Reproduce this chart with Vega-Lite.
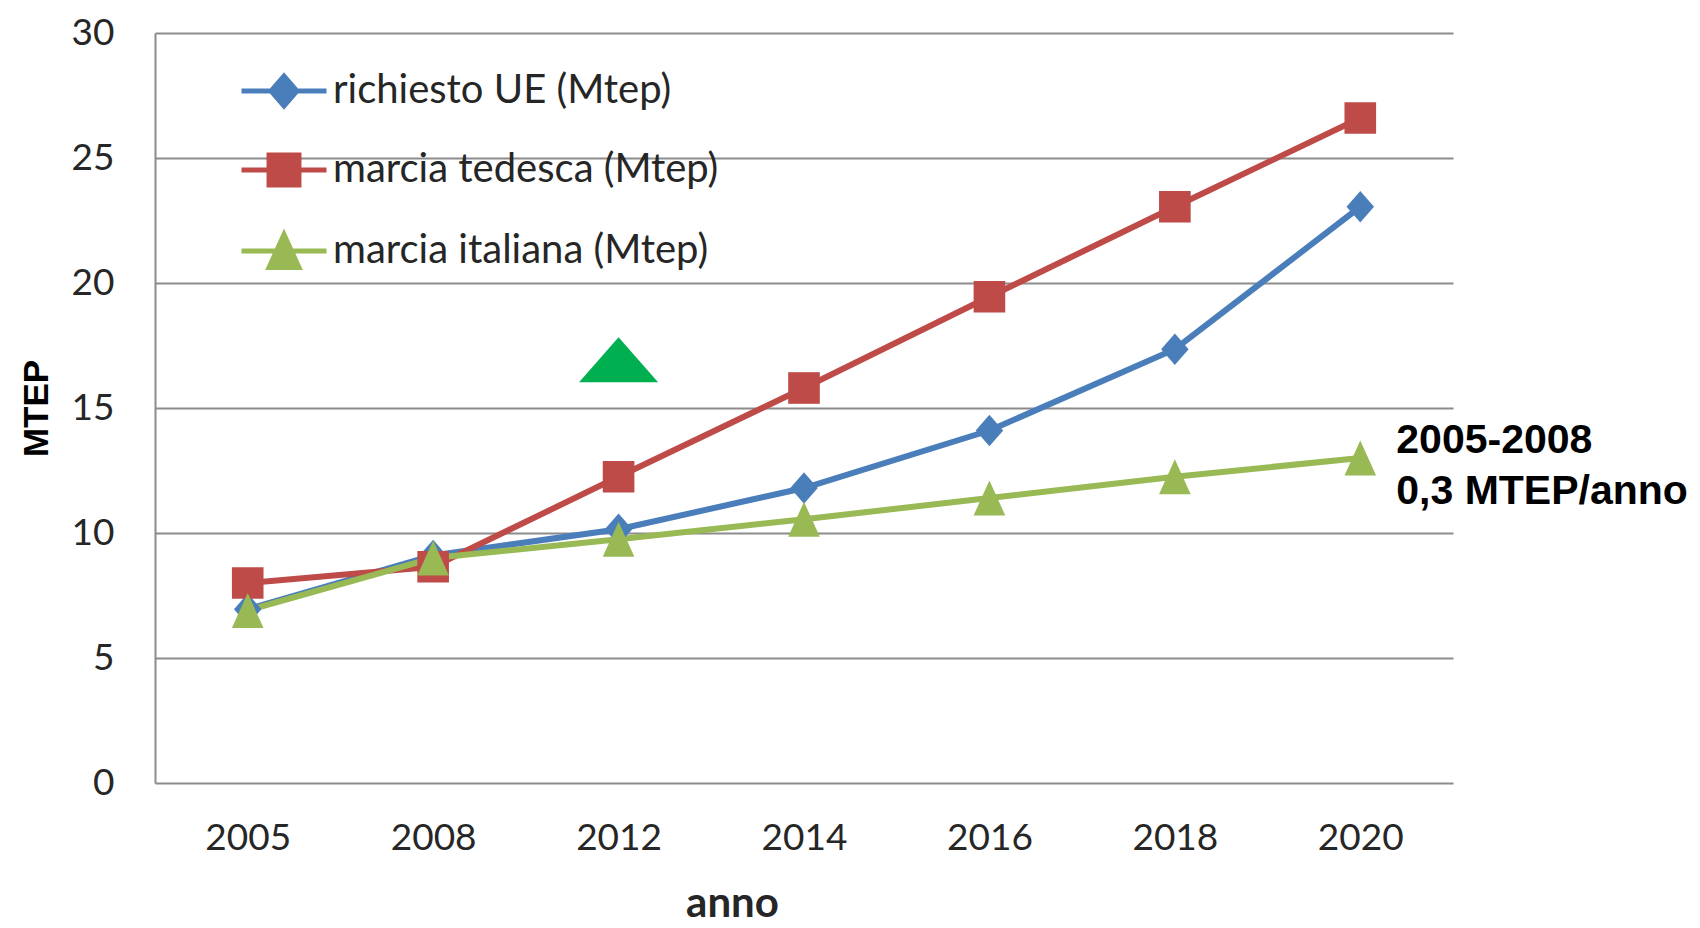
{
  "$schema": "https://vega.github.io/schema/vega-lite/v6.json",
  "autosize": {"type": "none"},
  "width": 1298,
  "height": 750,
  "padding": {"left": 155, "top": 33, "right": 247, "bottom": 145},
  "background": "white",
  "config": {"view": {"stroke": null}},
  "datasets": {
    "serie": [
      {"anno": "2005", "serie": "richiesto UE (Mtep)", "valore": 6.95},
      {"anno": "2008", "serie": "richiesto UE (Mtep)", "valore": 9.1},
      {"anno": "2012", "serie": "richiesto UE (Mtep)", "valore": 10.15},
      {"anno": "2014", "serie": "richiesto UE (Mtep)", "valore": 11.8},
      {"anno": "2016", "serie": "richiesto UE (Mtep)", "valore": 14.1},
      {"anno": "2018", "serie": "richiesto UE (Mtep)", "valore": 17.35},
      {"anno": "2020", "serie": "richiesto UE (Mtep)", "valore": 23.05},
      {"anno": "2005", "serie": "marcia tedesca (Mtep)", "valore": 8.0},
      {"anno": "2008", "serie": "marcia tedesca (Mtep)", "valore": 8.65},
      {"anno": "2012", "serie": "marcia tedesca (Mtep)", "valore": 12.25},
      {"anno": "2014", "serie": "marcia tedesca (Mtep)", "valore": 15.8},
      {"anno": "2016", "serie": "marcia tedesca (Mtep)", "valore": 19.45},
      {"anno": "2018", "serie": "marcia tedesca (Mtep)", "valore": 23.05},
      {"anno": "2020", "serie": "marcia tedesca (Mtep)", "valore": 26.6},
      {"anno": "2005", "serie": "marcia italiana (Mtep)", "valore": 6.9},
      {"anno": "2008", "serie": "marcia italiana (Mtep)", "valore": 9.0},
      {"anno": "2012", "serie": "marcia italiana (Mtep)", "valore": 9.75},
      {"anno": "2014", "serie": "marcia italiana (Mtep)", "valore": 10.55},
      {"anno": "2016", "serie": "marcia italiana (Mtep)", "valore": 11.4},
      {"anno": "2018", "serie": "marcia italiana (Mtep)", "valore": 12.25},
      {"anno": "2020", "serie": "marcia italiana (Mtep)", "valore": 13.0}
    ],
    "triangolo": [{"anno": "2012", "valore": 16.93}],
    "nota": [
      {"anno": "2020", "valore": 13.7, "testo": "2005-2008"},
      {"anno": "2020", "valore": 11.66, "testo": "0,3 MTEP/anno"}
    ]
  },
  "encoding": {
    "x": {
      "field": "anno", "type": "ordinal",
      "scale": {"type": "point", "padding": 0.5, "domain": ["2005", "2008", "2012", "2014", "2016", "2018", "2020"]},
      "axis": {
        "title": "anno", "titleFont": "Lato", "titleFontSize": 42, "titleFontWeight": "bold", "titleColor": "#262626",
        "titleX": 577, "titleY": 133, "titleBaseline": "alphabetic", "titleAlign": "center",
        "labelFont": "Lato", "labelFontSize": 37, "labelColor": "#262626", "labelPadding": 37,
        "labelAngle": 0, "ticks": false, "domain": false, "grid": false
      }
    },
    "y": {
      "field": "valore", "type": "quantitative",
      "scale": {"domain": [0, 30], "nice": false, "zero": true},
      "axis": {
        "title": "MTEP", "titleFont": "Liberation Sans", "titleFontSize": 35, "titleFontWeight": "bold", "titleColor": "black",
        "titleX": -119, "titleY": 375, "titleAngle": -90, "titleBaseline": "middle", "titleAlign": "center",
        "values": [0, 5, 10, 15, 20, 25, 30],
        "labelFont": "Lato", "labelFontSize": 37, "labelColor": "#262626", "labelPadding": 41,
        "ticks": false, "domain": true, "domainColor": "#8c8c8c", "domainWidth": 2,
        "grid": true, "gridColor": "#8c8c8c", "gridWidth": 2
      }
    }
  },
  "layer": [
    {
      "data": {"name": "serie"},
      "mark": {"type": "line", "strokeWidth": 6},
      "encoding": {
        "color": {
          "field": "serie", "type": "nominal",
          "scale": {"domain": ["richiesto UE (Mtep)", "marcia tedesca (Mtep)", "marcia italiana (Mtep)"], "range": ["#4A7EBB", "#BE4B48", "#98B954"]},
          "legend": {
            "title": null, "orient": "none", "legendX": 109, "legendY": 38, "padding": 0,
            "labelFont": "Lato", "labelFontSize": 40, "labelColor": "#262626", "labelOffset": 29, "labelLimit": 0,
            "symbolSize": 1156, "symbolStrokeWidth": 5, "rowPadding": 29, "symbolOpacity": 1,
            "symbolType": {"expr": "datum.value === 'richiesto UE (Mtep)' ? 'M-2.5,0H2.5M0,-0.88L0.76,0L0,0.88L-0.76,0Z' : datum.value === 'marcia tedesca (Mtep)' ? 'M-2.5,0H2.5M-0.88,-0.88H0.88V0.88H-0.88Z' : 'M-2.5,0H2.5M0,-0.97L0.88,0.97H-0.88Z'"}
          }
        }
      }
    },
    {
      "data": {"name": "serie"},
      "transform": [{"filter": "datum.serie === 'richiesto UE (Mtep)'"}],
      "mark": {"type": "point", "filled": true, "opacity": 1, "size": 1000, "shape": "M0,-1L0.87,0L0,1L-0.87,0Z"},
      "encoding": {"color": {"field": "serie", "type": "nominal"}}
    },
    {
      "data": {"name": "serie"},
      "transform": [{"filter": "datum.serie === 'marcia tedesca (Mtep)'"}],
      "mark": {"type": "point", "filled": true, "opacity": 1, "size": 1000, "shape": "M-1,-1H1V1H-1Z"},
      "encoding": {"color": {"field": "serie", "type": "nominal"}}
    },
    {
      "data": {"name": "serie"},
      "transform": [{"filter": "datum.serie === 'marcia italiana (Mtep)'"}],
      "mark": {"type": "point", "filled": true, "opacity": 1, "size": 1000, "shape": "M0,-1.1L1,1.1H-1Z"},
      "encoding": {"color": {"field": "serie", "type": "nominal"}}
    },
    {
      "data": {"name": "triangolo"},
      "mark": {"type": "point", "filled": true, "opacity": 1, "color": "#00B050", "size": 6241, "shape": "M-1,0.57H1L0,-0.57Z"}
    },
    {
      "data": {"name": "nota"},
      "mark": {"type": "text", "align": "left", "baseline": "middle", "dx": 36, "font": "Liberation Sans", "fontWeight": "bold", "fontSize": 41, "color": "black"},
      "encoding": {"text": {"field": "testo"}}
    }
  ]
}
